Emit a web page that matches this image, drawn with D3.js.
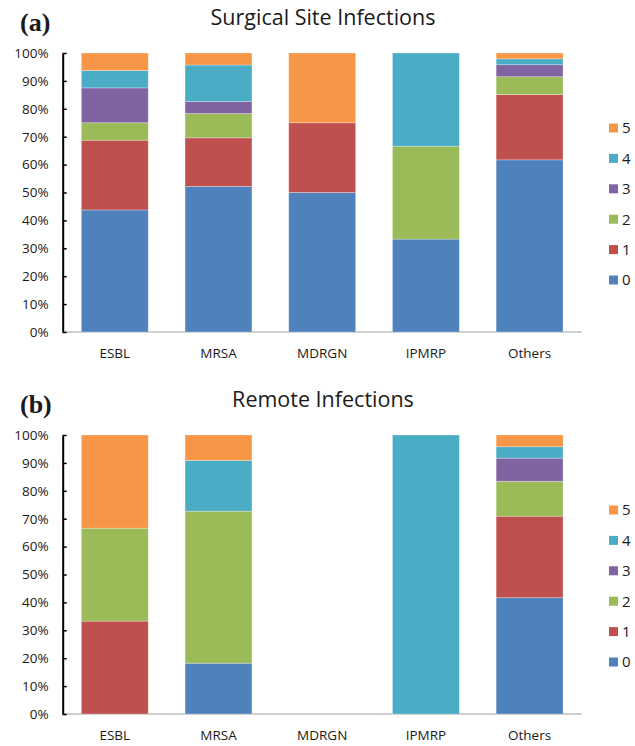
<!DOCTYPE html>
<html>
<head>
<meta charset="utf-8">
<script src="https://cdn.jsdelivr.net/npm/d3@7"></script>
<style>
  body { margin: 0; background: #fff; }
  svg text { font-family: "Open Sans", sans-serif; fill: #1a1a1a; }
</style>
</head>
<body>
<div id="chart"></div>
<script>
// categories + levels
const categories = ["ESBL", "MRSA", "MDRGN", "IPMRP", "Others"];
const levels = ["0", "1", "2", "3", "4", "5"];
const yTicks = [0, 10, 20, 30, 40, 50, 60, 70, 80, 90, 100];

// % per level (rows = level 0..5, cols = categories)
const surgicalSite = [
  [43.75, 52.2, 50, 33.3, 61.7],
  [25, 17.4, 25, 0, 23.4],
  [6.25, 8.7, 0, 33.3, 6.4],
  [12.5, 4.3, 0, 0, 4.3],
  [6.25, 13.1, 0, 33.4, 2.1],
  [6.25, 4.3, 25, 0, 2.1]
];

const remote = [
  [0, 18.2, 0, 0, 41.7],
  [33.3, 0, 0, 0, 29.2],
  [33.3, 54.5, 0, 0, 12.5],
  [0, 0, 0, 0, 8.3],
  [0, 18.2, 0, 100, 4.1],
  [33.4, 9.1, 0, 0, 4.2]
];

const colors = ["#4F81BD", "#C0504D", "#9BBB59", "#8064A2", "#4BACC6", "#F79646"];

const width = 635, height = 746;

const svg = d3.select("#chart")
  .append("svg")
  .attr("width", width)
  .attr("height", height);

const panels = [
  { tag: "(a)", title: "Surgical Site Infections", data: surgicalSite, top: 53, dy: 0 },
  { tag: "(b)", title: "Remote Infections", data: remote, top: 435, dy: 382 }
];

const plotH = 279;
const x = d3.scaleBand()
  .domain(categories)
  .range([62.7, 581.7])
  .paddingInner(0.355)
  .paddingOuter(0.18);

const color = d3.scaleOrdinal().domain(levels).range(colors);

panels.forEach(p => {
  const g = svg.append("g");

  const y = d3.scaleLinear()
    .domain([0, 100])
    .range([p.top + plotH, p.top]);

  // bảng cho d3.stack
  const rows = categories.map((c, j) => {
    const r = { cat: c };
    levels.forEach((l, i) => { r[l] = p.data[i][j]; });
    return r;
  });
  const series = d3.stack().keys(levels)(rows);

  // baseline xám
  g.append("line")
    .attr("x1", 62.7).attr("x2", 581.7)
    .attr("y1", y(0)).attr("y2", y(0))
    .attr("stroke", "#cfcfcf")
    .attr("stroke-width", 2);

  // bars
  series.forEach(s => {
    g.append("g")
      .selectAll("rect")
      .data(s.filter(d => d[1] - d[0] > 0))
      .join("rect")
      .attr("x", d => x(d.data.cat))
      .attr("width", x.bandwidth())
      .attr("y", d => y(d[1]))
      .attr("height", d => y(d[0]) - y(d[1]))
      .attr("fill", color(s.key))
      .attr("stroke", "#ffffff")
      .attr("stroke-opacity", 0.35)
      .attr("stroke-width", 0.8);
  });

  // trục Y
  const yAxis = g.append("g")
    .attr("transform", `translate(62.7,0)`)
    .call(d3.axisLeft(y)
      .tickValues(yTicks)
      .tickSizeInner(-4)
      .tickSizeOuter(0)
      .tickPadding(14)
      .tickFormat(d => d + "%"));
  yAxis.select(".domain").attr("stroke", "#000").attr("stroke-width", 2);
  yAxis.selectAll(".tick line").attr("stroke", "#000").attr("stroke-width", 1.5);
  yAxis.selectAll("text")
    .attr("font-size", 13.5)
    .attr("font-family", "Open Sans, sans-serif")
    .attr("fill", "#1a1a1a");

  // nhãn X
  g.append("g")
    .selectAll("text")
    .data(categories)
    .join("text")
    .attr("x", d => x(d) + x.bandwidth() / 2)
    .attr("y", 358 + p.dy)
    .attr("text-anchor", "middle")
    .attr("font-size", 13.5)
    .text(d => d);

  // tiêu đề
  g.append("text")
    .attr("x", 323)
    .attr("y", 25 + p.dy)
    .attr("text-anchor", "middle")
    .attr("font-size", 21.5)
    .text(p.title);

  g.append("text")
    .attr("x", 20)
    .attr("y", 31 + p.dy)
    .style("font-family", "'Liberation Serif', serif")
    .attr("font-weight", "bold")
    .attr("font-size", 26)
    .text(p.tag);

  // legend (5 trên cùng)
  const leg = g.append("g")
    .selectAll("g")
    .data(levels.slice().reverse())
    .join("g")
    .attr("transform", (d, i) => `translate(609,${128 + p.dy + i * 30.4})`);
  leg.append("rect")
    .attr("x", 0).attr("y", -4.5)
    .attr("width", 9).attr("height", 9)
    .attr("fill", d => color(d));
  leg.append("text")
    .attr("x", 13)
    .attr("y", 0)
    .attr("dy", "0.36em")
    .attr("font-size", 15)
    .text(d => d);
});
</script>
</body>
</html>
